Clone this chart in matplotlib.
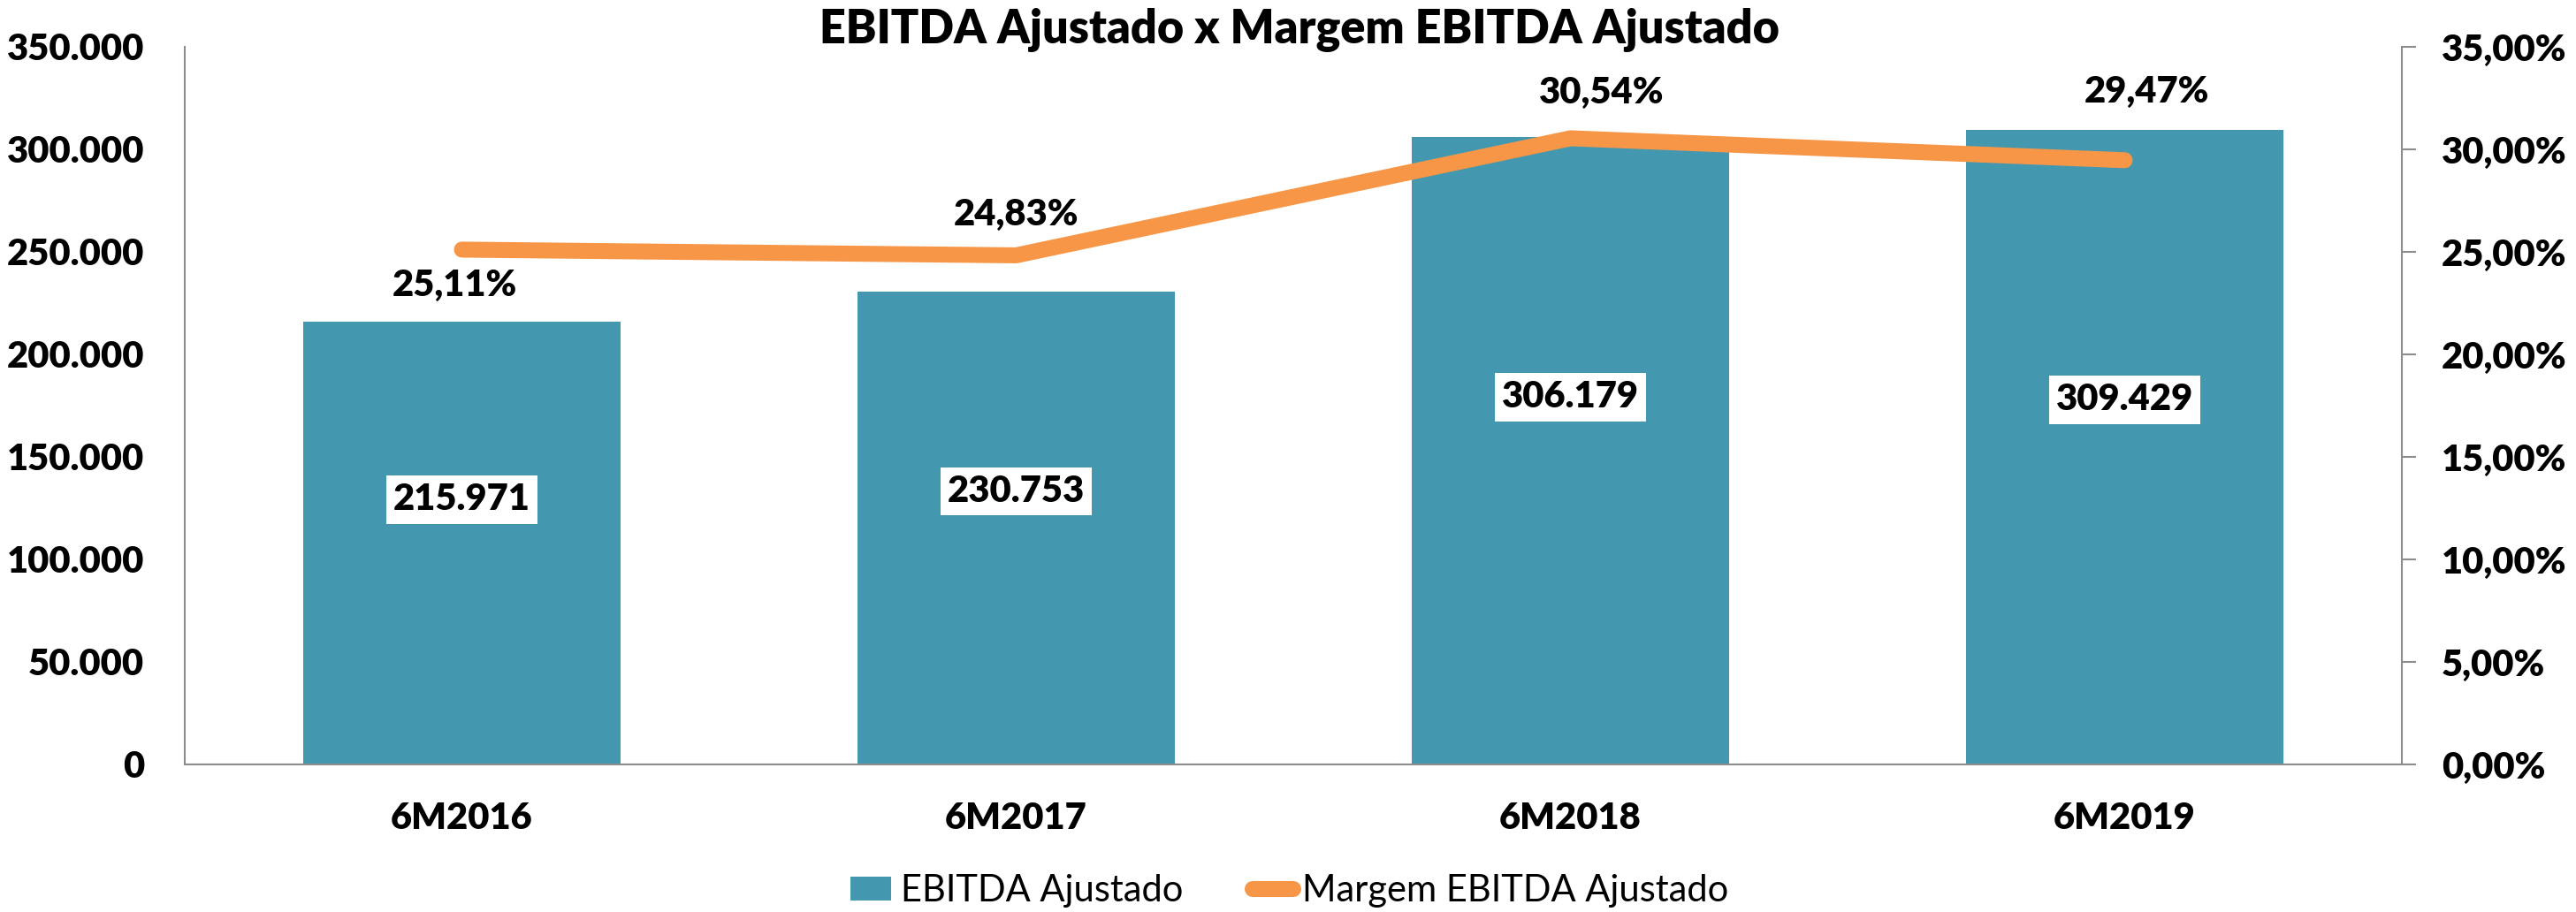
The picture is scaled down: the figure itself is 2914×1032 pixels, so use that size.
import matplotlib
matplotlib.use("Agg")
import matplotlib.pyplot as plt
from matplotlib.ticker import FuncFormatter
from matplotlib.lines import Line2D
from matplotlib.patches import Patch

# ---- data ----
categories = ['6M2016', '6M2017', '6M2018', '6M2019']
ebitda = [215971, 230753, 306179, 309429]
margem = [25.11, 24.83, 30.54, 29.47]
left_ticks = [0, 50000, 100000, 150000, 200000, 250000, 300000, 350000]
right_ticks = [0, 5, 10, 15, 20, 25, 30, 35]
title = 'EBITDA Ajustado x Margem EBITDA Ajustado'
series_names = ['EBITDA Ajustado', 'Margem EBITDA Ajustado']

# ---- style ----
BAR_COLOR = '#4398B0'
LINE_COLOR = '#F79646'
SPINE_COLOR = '#8C8C8C'
FONT = ['Lato', 'DejaVu Sans']
plt.rcParams['font.family'] = FONT
WEIGHT = 'heavy'
bar_label_frac = [0.598, 0.577, 0.585, 0.575]
pct_offsets = [(-6, -29), (0, 33), (25, 37), (18, 56)]

W, H = 2914, 1032
fig = plt.figure(figsize=(W / 100, H / 100), dpi=100)
ax = fig.add_axes([209 / W, 1 - 865 / H, (2717 - 209) / W, (865 - 53) / H])
ax2 = ax.twinx()

x = list(range(len(categories)))
ax.bar(x, ebitda, width=0.571, color=BAR_COLOR, zorder=2)
ax.set_xlim(-0.5, len(categories) - 0.5)
ax.set_ylim(0, 350000)
ax.set_yticks(left_ticks)
ax.yaxis.set_major_formatter(FuncFormatter(lambda v, p: f"{int(v):,}".replace(',', '.')))
ax.set_xticks(x)
ax.set_xticklabels(categories)

ax2.plot(x, margem, color=LINE_COLOR, lw=13, solid_capstyle='round',
         solid_joinstyle='round', zorder=3)
ax2.set_ylim(0, 35)
ax2.set_yticks(right_ticks)
ax2.yaxis.set_major_formatter(FuncFormatter(lambda v, p: f"{v:.2f}".replace('.', ',') + '%'))

for a in (ax, ax2):
    a.spines['top'].set_visible(False)
    for s in ('left', 'right', 'bottom'):
        a.spines[s].set_color(SPINE_COLOR)
        a.spines[s].set_linewidth(1.5)
ax.spines['right'].set_visible(False)
ax2.spines['left'].set_visible(False)
ax2.spines['bottom'].set_visible(False)

ax.tick_params(axis='y', length=0, pad=33, labelsize=30)
ax.tick_params(axis='x', length=0, pad=30, labelsize=30)
ax2.tick_params(axis='y', length=11.5, width=1.5, color=SPINE_COLOR, pad=21, labelsize=30)
for lab in ax.get_yticklabels() + ax.get_xticklabels() + ax2.get_yticklabels():
    lab.set_fontweight(WEIGHT)

# bar value labels
for xi, v, f in zip(x, ebitda, bar_label_frac):
    ax.text(xi, v * f, f"{v:,}".replace(',', '.'), ha='center', va='center',
            fontsize=30, fontweight=WEIGHT, color='black', zorder=5,
            bbox=dict(boxstyle='square,pad=0.2', fc='white', ec='none'))

# percentage labels
for xi, m, off in zip(x, margem, pct_offsets):
    ax2.annotate(f"{m:.2f}".replace('.', ',') + '%', (xi, m), xytext=off,
                 textcoords='offset points', ha='center', va='center',
                 fontsize=30, fontweight=WEIGHT, color='black', zorder=6)

fig.text(1470 / W, 1 - 49 / H, title, ha='center', va='baseline',
         fontsize=37.5, fontweight=WEIGHT)

handles = [Patch(facecolor=BAR_COLOR, edgecolor='none'),
           Line2D([0], [0], color=LINE_COLOR, lw=13, solid_capstyle='round')]
fig.legend(handles, series_names, loc='center', bbox_to_anchor=(1459 / W, 1 - 1008 / H),
           ncol=2, frameon=False, fontsize=30, handlelength=1.1, handleheight=0.6,
           handletextpad=0.25, columnspacing=1.9, borderpad=0)

fig.savefig('out.png', dpi=100)
